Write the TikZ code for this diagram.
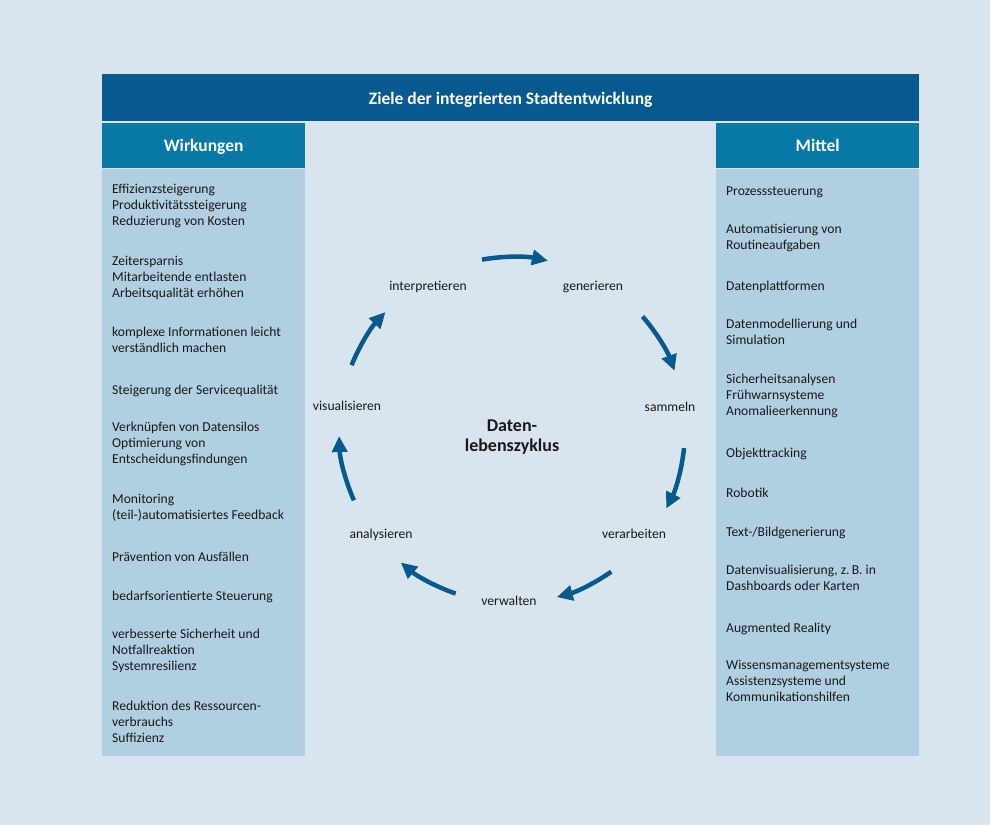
\documentclass[tikz,border=0pt]{standalone}
\usepackage{fontspec}
\setmainfont{Carlito}
\usetikzlibrary{arrows.meta}
\usetikzlibrary{positioning}
\usetikzlibrary{calc}

\definecolor{bgblue}{RGB}{217,229,238}
\definecolor{headblue}{RGB}{6,90,141}
\definecolor{subblue}{RGB}{8,120,165}
\definecolor{colblue}{RGB}{176,207,225}

\begin{document}
\begin{tikzpicture}[x=1pt, y=1pt,
    every node/.style={inner sep=0pt, text=black!90, font=\fontsize{13.6}{16}\selectfont},
    headbox/.style={fill=headblue, text=white, text height=14pt, text depth=0pt, font=\bfseries\fontsize{17.5}{20}\selectfont},
    subbox/.style={fill=subblue, text=white, text height=13pt, text depth=0pt, minimum width=203pt, minimum height=45pt, font=\bfseries\fontsize{17.5}{20}\selectfont},
    colbox/.style={fill=colblue, minimum width=203pt, minimum height=586pt},
    item/.style={anchor=north west, align=left, execute at begin node={\rule{0pt}{11pt}}},
    phase/.style={anchor=base},
    cycarrow/.style={draw=headblue, line width=4.5pt, -{Triangle[length=16pt, width=15pt]}}]

        % Background and frame of the picture
        \fill[bgblue] (0,0) rectangle (990,825);
        \useasboundingbox (0,0) rectangle (990,825);

        % Title bar
        \node[headbox, anchor=north west, minimum width=817pt, minimum height=47pt] (head) at (102,751) {Ziele der integrierten Stadtentwicklung};

        % Column heads
        \node[subbox, below right=1pt and 0pt of head.south west] (wirk) {Wirkungen};
        \node[subbox, below left=1pt and 0pt of head.south east] (mittel) {Mittel};

        % Column bodies
        \node[colbox, below=1.5pt of wirk] (wcol) {};
        \node[colbox, below=1.5pt of mittel] (mcol) {};

        % Left column: Wirkungen (y = baseline of first line)
        \foreach \y/\txt [count=\i] in {
            633/{Effizienzsteigerung\\Produktivitätssteigerung\\Reduzierung von Kosten},
            561/{Zeitersparnis\\Mitarbeitende entlasten\\Arbeitsqualität erhöhen},
            490/{komplexe Informationen leicht\\verständlich machen},
            434/{Steigerung der Servicequalität},
            395/{Verknüpfen von Datensilos\\Optimierung von\\Entscheidungsfindungen},
            323/{Monitoring\\(teil-)automatisiertes Feedback},
            267/{Prävention von Ausfällen},
            228/{bedarfsorientierte Steuerung},
            188/{verbesserte Sicherheit und\\Notfallreaktion\\Systemresilienz},
            116/{Reduktion des Ressourcen-\\verbrauchs\\Suffizienz}} {
          \node[item] (w\i) at (112,\y+8) {\txt};
        }

        % Right column: Mittel
        \foreach \y/\txt [count=\i] in {
            633/{Prozesssteuerung},
            593/{Automatisierung von\\Routineaufgaben},
            538/{Datenplattformen},
            498/{Datenmodellierung und\\Simulation},
            443/{Sicherheitsanalysen\\Frühwarnsysteme\\Anomalieerkennung},
            371/{Objekttracking},
            331/{Robotik},
            292/{Text-/Bildgenerierung},
            252/{Datenvisualisierung, z.\,B. in\\Dashboards oder Karten},
            196/{Augmented Reality},
            157/{Wissensmanagementsysteme\\Assistenzsysteme und\\Kommunikationshilfen}} {
          \node[item] (m\i) at (726,\y+8) {\txt};
        }

        % Centre of the data life cycle
        \coordinate (cyc) at (512,395);
        \def\radius{173}
        \node[anchor=base, align=center, font=\bfseries\fontsize{18}{20}\selectfont] (title) at (512,373) {Daten-\\lebenszyklus};

        % Phases of the cycle
        \node[phase] (s1) at (428,534) {interpretieren};
        \node[phase] (s2) at (593,534) {generieren};
        \node[phase] (s3) at (670,413) {sammeln};
        \node[phase] (s4) at (634,286) {verarbeiten};
        \node[phase] (s5) at (509,219) {verwalten};
        \node[phase] (s6) at (381,286) {analysieren};
        \node[phase] (s7) at (347,414) {visualisieren};

        % Arrows between the phases
        \foreach \a/\b in {100/78, 41/20, -6/-27, -55/-75, -109/-130, 204/182, 158/137} {
          \draw[cycarrow] ($(cyc)+(\a:\radius)$) arc[start angle=\a, end angle=\b, radius=\radius];
        }

      \end{tikzpicture}
\end{document}
